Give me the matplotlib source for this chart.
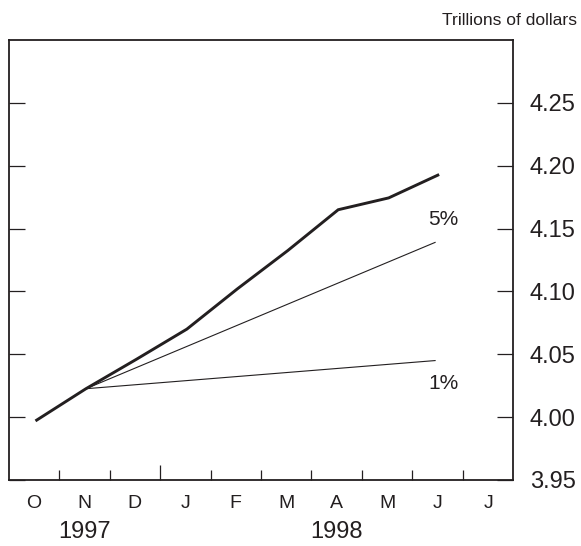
import numpy as np
import matplotlib
matplotlib.use("Agg")
import matplotlib.pyplot as plt

# Meses (out/1997 a jul/1998) e valores em trilhões de dólares
month_labels = ["O", "N", "D", "J", "F", "M", "A", "M", "J", "J"]
year_labels = ["1997", "1998"]
year_pos = [1.5, 6.5]

actual_month = [0, 1, 2, 3, 4, 5, 6, 7, 8]
actual_value = [3.997, 4.0226, 4.046, 4.070, 4.102, 4.1325, 4.165, 4.1744, 4.193]

# Linhas de referência (crescimento 5% e 1%) a partir de novembro
ref_month = [1, 7.92]
ref5_value = [4.0226, 4.139]
ref1_value = [4.0226, 4.045]

yticks = [3.95, 4.00, 4.05, 4.10, 4.15, 4.20, 4.25]

plt.rcParams["font.family"] = ["Liberation Sans", "DejaVu Sans"]
ink = "#231f20"

fig = plt.figure(figsize=(5.81, 5.46), dpi=100)
ax = fig.add_axes([0.015, 0.1209, 0.8685, 0.8058])

x_off = 0.53
ax.plot(np.array(actual_month) + x_off, actual_value, color=ink, lw=2.1,
        solid_joinstyle="miter", solid_capstyle="butt")
ax.plot(np.array(ref_month) + x_off, ref5_value, color=ink, lw=0.8)
ax.plot(np.array(ref_month) + x_off, ref1_value, color=ink, lw=0.8)

ax.text(8.61, 4.157, "5%", fontsize=15, color=ink, ha="center", va="center")
ax.text(8.61, 4.0266, "1%", fontsize=15, color=ink, ha="center", va="center")

ax.set_xlim(0, 10)
ax.set_ylim(3.95, 4.30)

# eixo y: ticks internos dos dois lados, rótulos só à direita
ax.set_yticks(yticks)
ax.set_yticklabels([f"{v:.2f}" for v in yticks])
ax.yaxis.set_ticks_position("both")
ax.tick_params(axis="y", direction="in", length=11.5, width=0.9, color=ink,
               labelleft=False, labelright=True, labelsize=17, pad=12,
               labelcolor=ink)

# eixo x: ticks nas divisas dos meses, rótulos no meio
ax.set_xticks(np.arange(1, 10))
ax.set_xticklabels([])
ax.set_xticks(np.arange(10) + 0.5, minor=True)
ax.set_xticklabels(month_labels, minor=True)
ax.tick_params(axis="x", which="major", direction="in", length=7.5, width=0.9,
               color=ink, top=False)
ax.tick_params(axis="x", which="minor", direction="in", length=0, pad=10.5,
               labelsize=14, labelcolor=ink, top=False)
# divisa do ano mais alta
ax.xaxis.get_major_ticks()[2].tick1line.set_markersize(11)

for xp, lab in zip(year_pos, year_labels):
    ax.text(xp, -0.1175, lab, transform=ax.get_xaxis_transform(),
            fontsize=17, color=ink, ha="center", va="center")

for s in ax.spines.values():
    s.set_linewidth(1.3)
    s.set_color(ink)

fig.text(0.993, 0.963, "Trillions of dollars", fontsize=12.6, color=ink,
         ha="right", va="center")

fig.savefig("out.png", dpi=100)
